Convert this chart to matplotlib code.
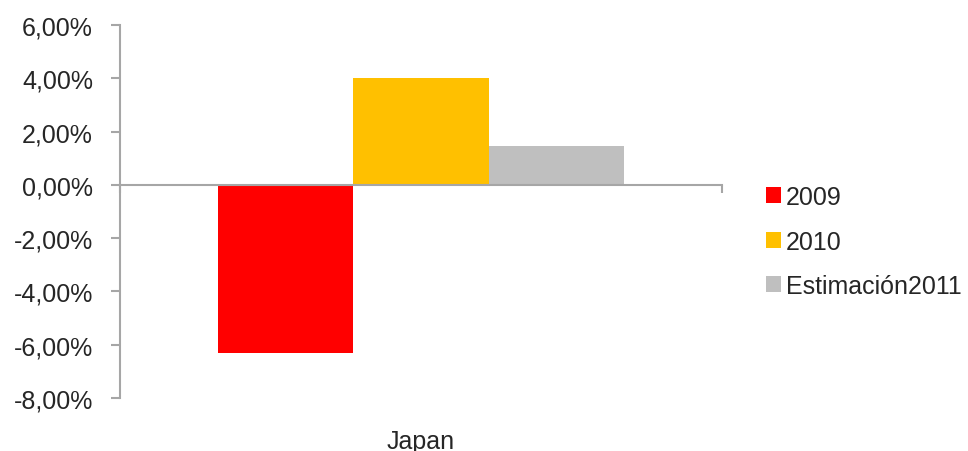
import matplotlib
matplotlib.use("Agg")
import matplotlib.pyplot as plt
from matplotlib.ticker import FuncFormatter
from matplotlib.patches import Patch

# Growth rates (%) for Japan
country = "Japan"
series = ["2009", "2010", "Estimación2011"]
values = [-6.3, 4.0, 1.45]
colors = ["#FF0000", "#FFC000", "#BFBFBF"]

axis_color = "#A6A6A6"
text_color = "#262626"
font_size = 18

plt.rcParams["font.family"] = ["Liberation Sans", "DejaVu Sans"]

fig = plt.figure(figsize=(9.68, 4.52), dpi=100)
ax = fig.add_axes([0.124, 0.1173, 0.622, 0.8252])

bar_w = 0.225
offsets = [(i - 1) * bar_w for i in range(len(values))]
for off, v, c in zip(offsets, values, colors):
    ax.bar(off, v, width=bar_w, color=c, edgecolor="none", zorder=2)

ax.set_xlim(-0.5, 0.5)
ax.set_ylim(-8, 6)
ax.set_yticks(range(-8, 7, 2))
ax.yaxis.set_major_formatter(FuncFormatter(lambda v, p: f"{v:.2f}%".replace(".", ",")))

# category axis sits on the zero line
ax.spines["bottom"].set_position(("data", 0))
ax.spines["bottom"].set_color(axis_color)
ax.spines["bottom"].set_linewidth(1.5)
ax.spines["bottom"].set_zorder(3)
ax.spines["left"].set_color(axis_color)
ax.spines["left"].set_linewidth(1.5)
ax.spines["top"].set_visible(False)
ax.spines["right"].set_visible(False)

ax.set_xticks([-0.5, 0.5])
ax.set_xticklabels([])
ax.tick_params(axis="x", length=6, width=1.5, color=axis_color, direction="out")
ax.tick_params(axis="y", length=6.5, width=1.5, color=axis_color, pad=13,
               labelsize=font_size, labelcolor=text_color)

ax.text(0, -0.115, country, transform=ax.get_xaxis_transform(),
        ha="center", va="center", fontsize=font_size, color=text_color)

handles = [Patch(facecolor=c, edgecolor="none") for c in colors]
fig.legend(handles, series, loc="center left", bbox_to_anchor=(0.791, 0.463),
           frameon=False, fontsize=font_size, handlelength=0.6, handleheight=0.6,
           handletextpad=0.2, labelspacing=0.82, borderpad=0, borderaxespad=0,
           labelcolor=text_color)

fig.savefig("out.png", dpi=100, facecolor="white")
